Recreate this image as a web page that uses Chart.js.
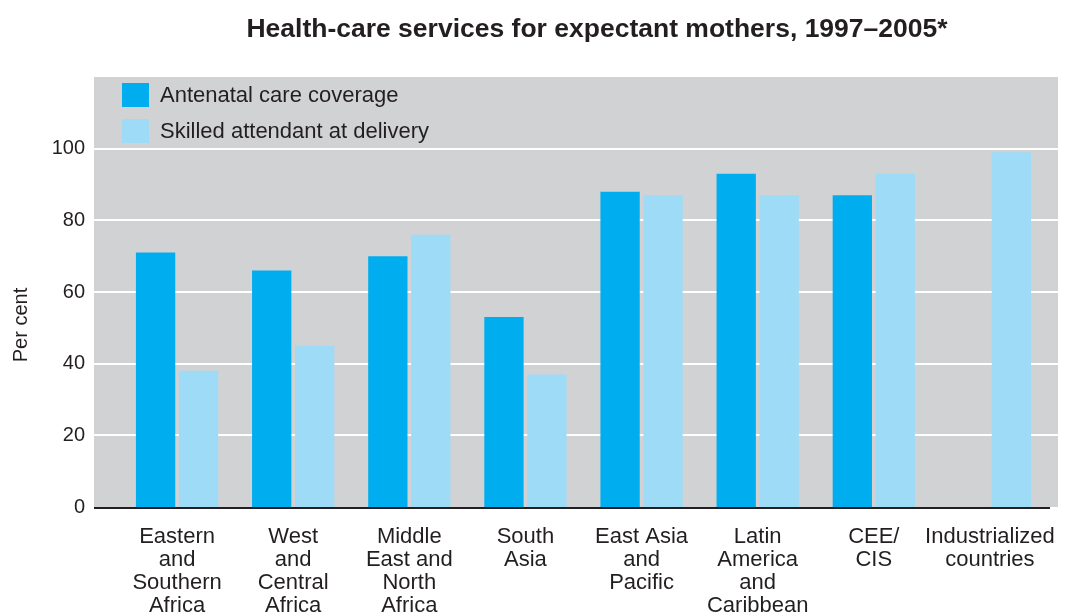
<!DOCTYPE html>
<html><head><meta charset="utf-8">
<script src="https://cdn.jsdelivr.net/npm/chart.js@4"></script>
<style>html,body{margin:0;padding:0;background:#fff;} #wrap{width:1091px;height:613px;position:relative}</style>
</head><body><div id="wrap"><canvas id="c" width="1091" height="613"></canvas></div>
<script>
const categories = [["Eastern","and","Southern","Africa"],["West","and","Central","Africa"],["Middle","East and","North","Africa"],["South","Asia"],["East Asia","and","Pacific"],["Latin","America","and","Caribbean"],["CEE/","CIS"],["Industrialized","countries"]];
const antenatalCare = [71, 66, 70, 53, 88, 93, 87, null];
const skilledAttendant = [38, 45, 76, 37, 87, 87, 93, 99];
const seriesLabels = ["Antenatal care coverage", "Skilled attendant at delivery"];
const yTicks = [0, 20, 40, 60, 80, 100];
const titleText = "Health-care services for expectant mothers, 1997\u20132005*";
const yTitle = "Per cent";

const DARK = '#00aeef', LIGHT = '#9ddbf7', GREY = '#d1d2d4', TXT = '#231f20';
const FONT = "'Liberation Sans', Arial, sans-serif";

const decor = {
  id: 'decor',
  beforeDraw(chart) {
    const {ctx, chartArea: a, scales: {y}} = chart;
    const L = a.left - 25, R = a.right + 10;
    ctx.save();
    ctx.fillStyle = GREY;
    ctx.fillRect(L, a.top, R - L, a.bottom - a.top);
    ctx.strokeStyle = '#ffffff';
    ctx.lineWidth = 2;
    yTicks.filter(v => v > 0).forEach(v => {
      const py = Math.round(y.getPixelForValue(v));
      ctx.beginPath(); ctx.moveTo(L, py); ctx.lineTo(R, py); ctx.stroke();
    });
    // title
    ctx.fillStyle = TXT;
    ctx.font = "bold 26.5px " + FONT;
    ctx.textAlign = 'center';
    ctx.textBaseline = 'alphabetic';
    ctx.fillText(titleText, 597, 37);
    ctx.restore();
  },
  afterDatasetsDraw(chart) {
    const {ctx, chartArea: a} = chart;
    ctx.save();
    // baseline axis
    ctx.strokeStyle = TXT; ctx.lineWidth = 2;
    ctx.beginPath(); ctx.moveTo(a.left - 25, a.bottom + 1); ctx.lineTo(a.right + 2, a.bottom + 1); ctx.stroke();
    // legend
    ctx.font = "22px " + FONT;
    ctx.textBaseline = 'middle';
    ctx.textAlign = 'left';
    chart.data.datasets.forEach((ds, i) => {
      const bx = a.left + 3, by = a.top + 6 + i * 36;
      ctx.fillStyle = ds.backgroundColor;
      ctx.fillRect(bx, by, 27, 24);
      ctx.fillStyle = TXT;
      ctx.fillText(ds.label, bx + 38, by + 13);
    });
    // y title
    ctx.font = "20px " + FONT;
    ctx.translate(21, 325);
    ctx.rotate(-Math.PI / 2);
    ctx.textAlign = 'center';
    ctx.fillText(yTitle, 0, 0);
    ctx.restore();
  }
};

new Chart(document.getElementById('c'), {
  type: 'bar',
  data: {
    labels: categories,
    datasets: [
      {label: seriesLabels[0], data: antenatalCare, backgroundColor: DARK, barPercentage: 0.915, categoryPercentage: 0.74},
      {label: seriesLabels[1], data: skilledAttendant, backgroundColor: LIGHT, barPercentage: 0.915, categoryPercentage: 0.74}
    ]
  },
  options: {
    responsive: false,
    animation: false,
    devicePixelRatio: 1,
    layout: {padding: {left: 0, right: 43, top: 77, bottom: 0}},
    plugins: {
      legend: {display: false},
      tooltip: {enabled: false},
      title: {display: false}
    },
    scales: {
      x: {
        type: 'category', offset: true,
        grid: {display: false, drawTicks: false},
        border: {display: false},
        ticks: {color: TXT, font: {family: FONT, size: 22, lineHeight: 1.05}, padding: 18, maxRotation: 0, autoSkip: false},
        afterFit(s) { s.height = 106; }
      },
      y: {
        min: 0, max: 120,
        grid: {display: false, drawTicks: false},
        border: {display: false},
        ticks: {stepSize: 20, color: TXT, font: {family: FONT, size: 20}, padding: 34,
          callback: v => yTicks.includes(v) ? String(v) : ''},
        afterFit(s) { s.width = 119; }
      }
    }
  },
  plugins: [decor]
});
</script></body></html>
